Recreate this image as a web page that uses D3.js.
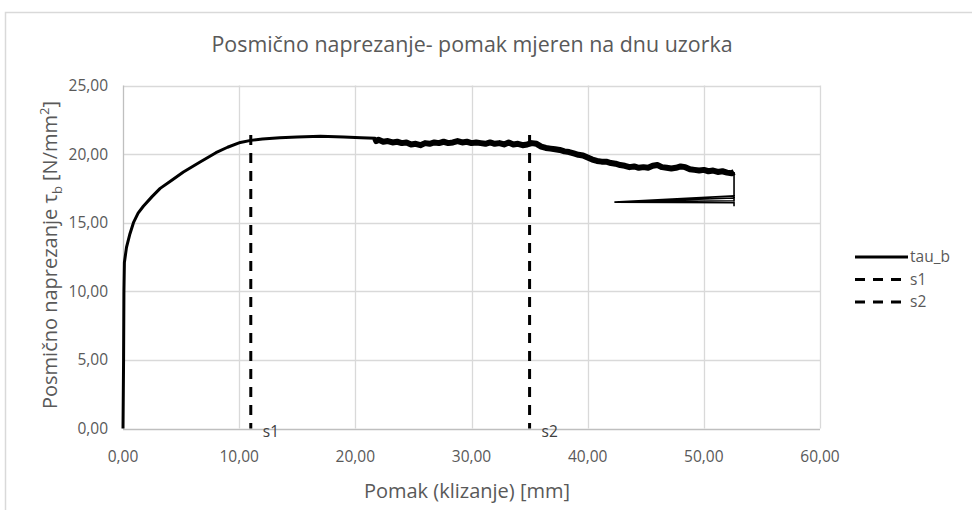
<!DOCTYPE html>
<html>
<head>
<meta charset="utf-8">
<script src="https://cdn.jsdelivr.net/npm/d3@7"></script>
<style>
  html, body { margin: 0; padding: 0; background: #fff; }
  svg { display: block; font-family: "Open Sans", "Noto Sans", sans-serif; }
</style>
</head>
<body>
<svg id="chart" width="972" height="510"></svg>
<script>
// Slip (mm) vs. shear stress tau_b (N/mm^2), measured at the bottom of the specimen
const tauX = [0, 0.05, 0.08, 0.12, 0.3, 0.6, 0.9, 1.3, 1.75, 2.5, 3.2, 4.2, 5.2, 6.6, 8.0, 9.0, 10.1, 11.0, 12.0, 13.5, 15.0, 17.0, 19.0, 20.5, 21.7,
  21.8, 22.0, 22.4, 22.8, 23.2, 23.6, 24.0, 24.4, 24.8, 25.2, 25.6, 26.0, 26.4, 26.8, 27.2, 27.6, 28.0, 28.4, 28.8, 29.2, 29.6, 30.0,
  30.4, 30.8, 31.2, 31.6, 32.0, 32.4, 32.8, 33.2, 33.6, 34.0, 34.4, 34.8, 35.2, 35.6, 36.0, 36.4, 36.8, 37.2, 37.6, 38.0, 38.4, 38.8,
  39.2, 39.6, 40.0, 40.4, 40.8, 41.2, 41.6, 42.0, 42.4, 42.8, 43.2, 43.6, 44.0, 44.4, 44.8, 45.2, 45.6, 46.0, 46.4, 46.8, 47.2, 47.6,
  48.0, 48.4, 48.8, 49.2, 49.6, 50.0, 50.4, 50.8, 51.2, 51.6, 52.0, 52.4, 52.6,
  52.6, 52.6, 42.3, 52.6, 52.6, 42.3, 52.6, 52.6];
const tauY = [0, 5.0, 10.0, 12.1, 13.2, 14.2, 15.0, 15.7, 16.2, 16.9, 17.5, 18.1, 18.7, 19.4, 20.1, 20.5, 20.85, 21.0, 21.1, 21.2, 21.25, 21.3, 21.25, 21.2, 21.15,
  20.95, 21.05, 20.9, 20.95, 20.85, 20.9, 20.8, 20.85, 20.7, 20.75, 20.65, 20.8, 20.75, 20.85, 20.8, 20.9, 20.8, 20.85, 20.95, 20.85, 20.9, 20.8,
  20.85, 20.8, 20.75, 20.85, 20.75, 20.8, 20.7, 20.85, 20.7, 20.75, 20.65, 20.7, 20.8, 20.75, 20.55, 20.45, 20.4, 20.35, 20.3, 20.2, 20.15, 20.05,
  19.95, 19.9, 19.75, 19.6, 19.5, 19.45, 19.45, 19.35, 19.3, 19.2, 19.15, 19.05, 19.1, 19.0, 19.05, 19.0, 19.15, 19.2, 19.05, 19.0, 18.95, 19.0,
  19.1, 19.05, 18.9, 18.85, 18.8, 18.85, 18.75, 18.8, 18.7, 18.75, 18.65, 18.6, 18.7,
  16.2, 16.95, 16.5, 16.8, 16.6, 16.5, 16.45, 16.5];

// Marker slips s1 and s2 (vertical reference lines)
const markerNames = ["s1", "s2"];
const markerX = [11.0, 35.0];
const markerTop = [21.4, 21.4];

const legendNames = ["tau_b", "s1", "s2"];
const xTicks = [0, 10, 20, 30, 40, 50, 60];
const yTicks = [0, 5, 10, 15, 20, 25];

const titleText = "Posmično naprezanje- pomak mjeren na dnu uzorka";
const xTitle = "Pomak (klizanje) [mm]";

const svg = d3.select("#chart");
const fmt = v => d3.format(".2f")(v).replace(".", ",");

const plot = { left: 123, right: 820, top: 85.5, bottom: 428.5 };
const x = d3.scaleLinear().domain([0, 60]).range([plot.left, plot.right]);
const y = d3.scaleLinear().domain([0, 25]).range([plot.bottom, plot.top]);

// chart frame
svg.append("rect").attr("x", 5.5).attr("y", 12.5).attr("width", 1100).attr("height", 700)
  .attr("fill", "#fff").attr("stroke", "#d9d9d9").attr("stroke-width", 1.5);

// gridlines
svg.append("g").selectAll("line").data(yTicks.slice(1)).join("line")
  .attr("x1", plot.left).attr("x2", plot.right)
  .attr("y1", d => Math.round(y(d)) + 0.5).attr("y2", d => Math.round(y(d)) + 0.5)
  .attr("stroke", "#d9d9d9").attr("stroke-width", 1.3);
svg.append("g").selectAll("line").data(xTicks.slice(1)).join("line")
  .attr("x1", d => Math.round(x(d)) + 0.5).attr("x2", d => Math.round(x(d)) + 0.5)
  .attr("y1", plot.top).attr("y2", plot.bottom)
  .attr("stroke", "#d9d9d9").attr("stroke-width", 1.3);

// axes lines
svg.append("line").attr("x1", plot.left).attr("x2", plot.right)
  .attr("y1", Math.round(plot.bottom) + 0.5).attr("y2", Math.round(plot.bottom) + 0.5)
  .attr("stroke", "#bfbfbf").attr("stroke-width", 1.3);
svg.append("line").attr("x1", plot.left + 0.5).attr("x2", plot.left + 0.5)
  .attr("y1", plot.top).attr("y2", plot.bottom)
  .attr("stroke", "#bfbfbf").attr("stroke-width", 1.3);

// tick labels
svg.append("g").selectAll("text").data(yTicks).join("text")
  .attr("x", 108).attr("y", d => y(d)).attr("dy", "0.35em")
  .attr("text-anchor", "end").attr("fill", "#595959").attr("font-size", 15.5)
  .text(fmt);
svg.append("g").selectAll("text").data(xTicks).join("text")
  .attr("x", d => x(d)).attr("y", 457).attr("dy", "0.35em")
  .attr("text-anchor", "middle").attr("fill", "#595959").attr("font-size", 15.5)
  .text(fmt);

// titles
svg.append("text").attr("x", 472).attr("y", 45).attr("dy", "0.35em")
  .attr("text-anchor", "middle").attr("fill", "#595959").attr("font-size", 21.4)
  .text(titleText);
svg.append("text").attr("x", 467).attr("y", 491).attr("dy", "0.35em")
  .attr("text-anchor", "middle").attr("fill", "#595959").attr("font-size", 20)
  .text(xTitle);
const yt = svg.append("text").attr("transform", "translate(50,255) rotate(-90)")
  .attr("text-anchor", "middle").attr("fill", "#595959").attr("font-size", 20)
  .attr("dy", "0.35em");
yt.append("tspan").text("Posmično naprezanje τ");
yt.append("tspan").attr("font-size", 13).attr("dy", 5).text("b");
yt.append("tspan").attr("dy", -5).text(" [N/mm");
yt.append("tspan").attr("font-size", 13).attr("dy", -8).text("2");
yt.append("tspan").attr("dy", 8).text("]");

// marker lines
const dash = "10,8";
markerNames.forEach((name, i) => {
  svg.append("line")
    .attr("x1", x(markerX[i])).attr("x2", x(markerX[i]))
    .attr("y1", y(markerTop[i])).attr("y2", y(0))
    .attr("stroke", "#000").attr("stroke-width", 3).attr("stroke-dasharray", dash);
  svg.append("text").attr("x", x(markerX[i]) + 12).attr("y", y(0) + 3).attr("dy", "0.35em")
    .attr("fill", "#404040").attr("font-size", 15.5).text(name);
});

// tau_b curve: smooth rise, noisy plateau, and the closing unloading wedge
const pts = tauX.map((v, i) => [v, tauY[i]]);
const iNoise = tauX.findIndex(v => v > 21.7);
const iDrop = tauX.findIndex((v, i) => i > 0 && v === tauX[i - 1] && tauY[i] < 17);
const line = d3.line().x(d => x(d[0])).y(d => y(d[1]));
svg.append("path").attr("d", line(pts.slice(0, iNoise + 1)))
  .attr("fill", "none").attr("stroke", "#000").attr("stroke-width", 3).attr("stroke-linejoin", "round");
svg.append("path").attr("d", line(pts.slice(iNoise - 1, iDrop)))
  .attr("fill", "none").attr("stroke", "#000").attr("stroke-width", 6).attr("stroke-linejoin", "round");
svg.append("path").attr("d", line(pts.slice(iDrop - 1)))
  .attr("fill", "none").attr("stroke", "#000").attr("stroke-width", 1.6).attr("stroke-linejoin", "miter");

// legend
const legY = [257, 279.5, 302];
legendNames.forEach((name, i) => {
  svg.append("line").attr("x1", 855).attr("x2", 908).attr("y1", legY[i]).attr("y2", legY[i])
    .attr("stroke", "#000").attr("stroke-width", 3)
    .attr("stroke-dasharray", i === 0 ? null : dash);
  svg.append("text").attr("x", 910).attr("y", legY[i]).attr("dy", "0.35em")
    .attr("fill", "#595959").attr("font-size", 15.5).text(name);
});
</script>
</body>
</html>
